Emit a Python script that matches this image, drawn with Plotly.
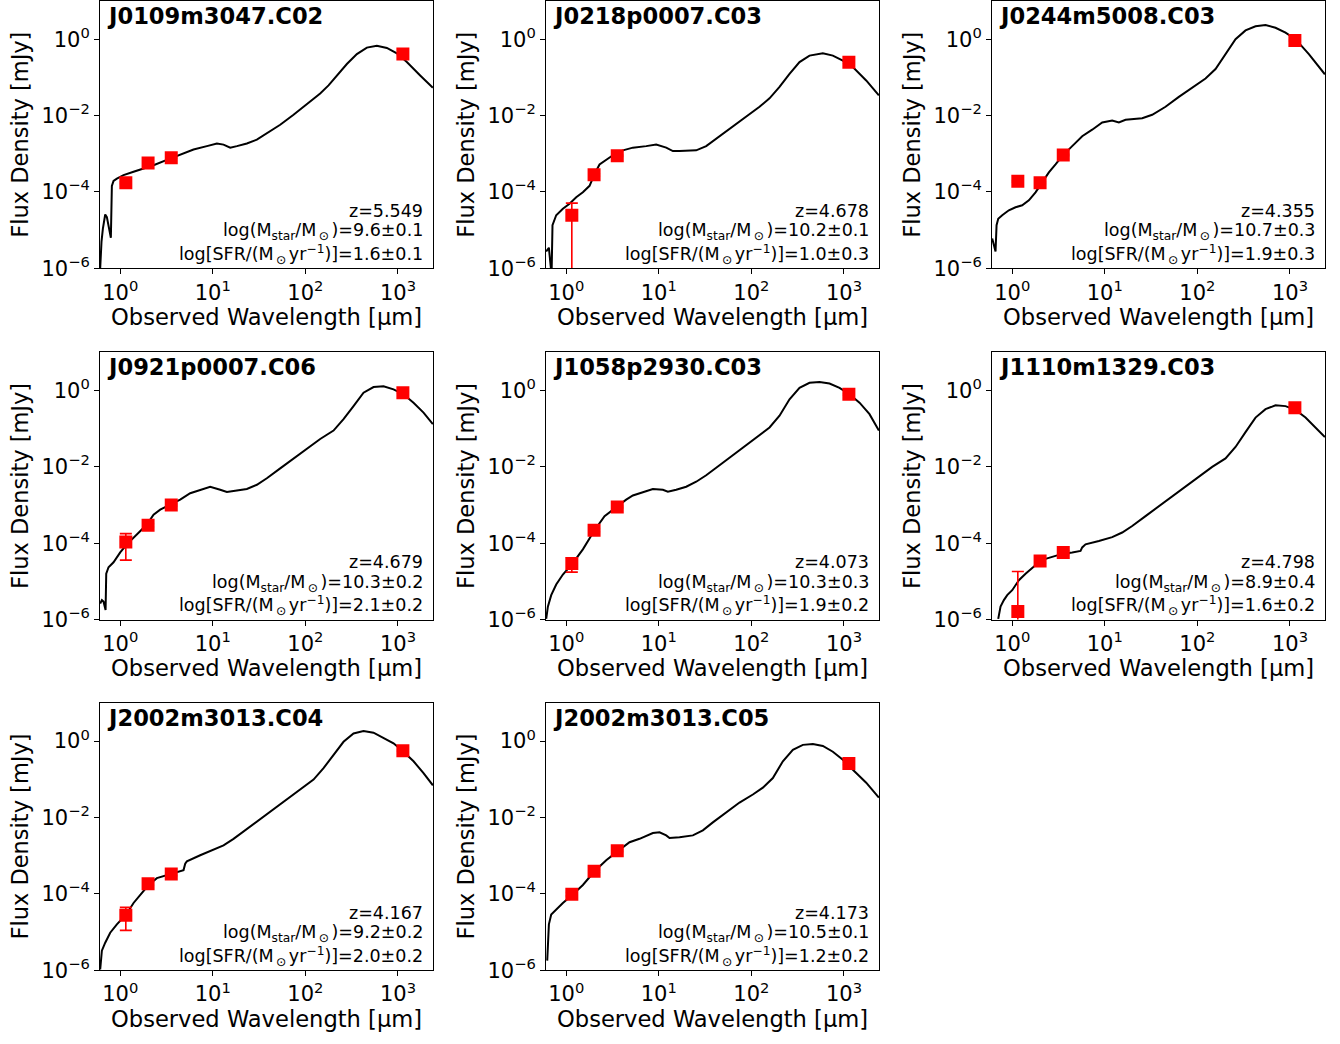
import numpy as np
import plotly.graph_objects as go

# ---------------- data ----------------
names = ["J0109m3047.C02", "J0218p0007.C03", "J0244m5008.C03", "J0921p0007.C06",
         "J1058p2930.C03", "J1110m1329.C03", "J2002m3013.C04", "J2002m3013.C05"]
redshift = ["5.549", "4.678", "4.355", "4.679", "4.073", "4.798", "4.167", "4.173"]
log_mstar = ["9.6±0.1", "10.2±0.1", "10.7±0.3", "10.3±0.2", "10.3±0.3", "8.9±0.4", "9.2±0.2", "10.5±0.1"]
log_sfr = ["1.6±0.1", "1.0±0.3", "1.9±0.3", "2.1±0.2", "1.9±0.2", "1.6±0.2", "2.0±0.2", "1.2±0.2"]

# observed wavelengths of photometric points [um]
phot_wave = [1.15, 2.0, 3.56, 1130]

# photometric flux densities [mJy]
phot_flux_1 = [1.74e-4, 5.75e-4, 7.9e-4, 0.41]
phot_flux_2 = [2.45e-5, 2.8e-4, 8.9e-4, 0.25]
phot_flux_3 = [1.9e-4, 1.74e-4, 9.3e-4, 0.93]
phot_flux_4 = [1.07e-4, 2.95e-4, 1.0e-3, 0.87]
phot_flux_5 = [2.95e-5, 2.2e-4, 8.9e-4, 0.79]
phot_flux_6 = [1.62e-6, 3.4e-5, 5.75e-5, 0.355]
phot_flux_7 = [2.75e-5, 1.82e-4, 3.3e-4, 0.56]
phot_flux_8 = [9.8e-5, 3.9e-4, 1.35e-3, 0.26]

# photometric errors [mJy]
phot_err_1 = [1.0e-5, 2.0e-5, 3.0e-5, 0.02]
phot_err_2 = [2.65e-5, 2.0e-5, 4.0e-5, 0.02]
phot_err_3 = [1.0e-5, 1.0e-5, 4.0e-5, 0.04]
phot_err_4 = [7.1e-5, 3.0e-5, 6.0e-5, 0.04]
phot_err_5 = [1.2e-5, 2.0e-5, 5.0e-5, 0.04]
phot_err_6 = [1.65e-5, 4.0e-6, 6.0e-6, 0.02]
phot_err_7 = [1.65e-5, 1.5e-5, 3.0e-5, 0.03]
phot_err_8 = [1.0e-5, 3.0e-5, 8.0e-5, 0.02]

# best-fit model SEDs (log10 wavelength [um], log10 flux [mJy])
model_loglam_1 = [-0.216, -0.202, -0.187, -0.162, -0.144, -0.122, -0.101, -0.090, -0.072, -0.036, 0.036, 0.144,
                  0.252, 0.360, 0.504, 0.648, 0.792, 0.936, 1.044, 1.116, 1.188, 1.260, 1.368, 1.476, 1.584,
                  1.728, 1.872, 2.016, 2.160, 2.250, 2.340, 2.448, 2.556, 2.664, 2.772, 2.880, 2.988, 3.096,
                  3.240, 3.377]
model_logflux_1 = [-5.99, -5.30, -4.96, -4.59, -4.66, -4.96, -5.20, -3.84, -3.71, -3.65, -3.56, -3.47, -3.39,
                   -3.30, -3.16, -3.02, -2.89, -2.80, -2.73, -2.76, -2.84, -2.80, -2.73, -2.63, -2.47, -2.24,
                   -1.98, -1.70, -1.42, -1.21, -0.95, -0.65, -0.39, -0.22, -0.17, -0.23, -0.37, -0.60, -0.95,
                   -1.27]

model_loglam_2 = [-0.216, -0.187, -0.169, -0.158, -0.148, -0.108, -0.036, 0.036, 0.108, 0.180, 0.252, 0.306,
                  0.360, 0.432, 0.504, 0.612, 0.720, 0.864, 0.972, 1.080, 1.152, 1.224, 1.404, 1.512, 1.656,
                  1.800, 1.944, 2.088, 2.196, 2.304, 2.412, 2.520, 2.628, 2.772, 2.880, 2.988, 3.096, 3.240,
                  3.377]
model_logflux_2 = [-5.56, -5.46, -5.91, -6.16, -4.87, -4.61, -4.44, -4.31, -4.14, -4.01, -3.84, -3.53, -3.28,
                   -3.15, -3.04, -2.91, -2.84, -2.80, -2.76, -2.84, -2.93, -2.93, -2.91, -2.80, -2.54, -2.28,
                   -2.03, -1.77, -1.55, -1.25, -0.91, -0.60, -0.43, -0.37, -0.43, -0.56, -0.73, -1.08, -1.47]

model_loglam_3 = [-0.216, -0.198, -0.180, -0.169, -0.151, -0.108, -0.036, 0.036, 0.108, 0.180, 0.252, 0.324,
                  0.396, 0.468, 0.540, 0.648, 0.756, 0.864, 0.972, 1.080, 1.152, 1.224, 1.404, 1.512, 1.656,
                  1.800, 1.944, 2.088, 2.196, 2.304, 2.412, 2.520, 2.628, 2.736, 2.844, 2.952, 3.060, 3.204,
                  3.377]
model_logflux_3 = [-5.22, -5.39, -5.56, -4.87, -4.70, -4.61, -4.48, -4.40, -4.35, -4.22, -4.01, -3.75, -3.49,
                   -3.28, -3.06, -2.80, -2.54, -2.37, -2.18, -2.13, -2.18, -2.11, -2.07, -1.98, -1.77, -1.51,
                   -1.27, -1.03, -0.78, -0.39, 0.00, 0.23, 0.34, 0.37, 0.30, 0.17, 0.00, -0.39, -0.92]

model_loglam_4 = [-0.216, -0.198, -0.180, -0.158, -0.151, -0.126, -0.072, 0.000, 0.072, 0.144, 0.216, 0.288,
                  0.360, 0.432, 0.540, 0.648, 0.756, 0.864, 0.972, 1.080, 1.152, 1.224, 1.368, 1.476, 1.584,
                  1.728, 1.872, 2.016, 2.160, 2.304, 2.412, 2.520, 2.628, 2.736, 2.844, 2.952, 3.060, 3.168,
                  3.276, 3.377]
model_logflux_4 = [-5.58, -5.49, -5.53, -5.75, -4.80, -4.63, -4.50, -4.24, -4.03, -3.85, -3.68, -3.51, -3.25,
                   -3.12, -2.99, -2.86, -2.69, -2.60, -2.52, -2.60, -2.66, -2.63, -2.58, -2.47, -2.30, -2.04,
                   -1.78, -1.53, -1.27, -1.05, -0.75, -0.41, -0.06, 0.09, 0.11, 0.03, -0.10, -0.32, -0.58,
                   -0.88]

model_loglam_5 = [-0.216, -0.198, -0.162, -0.108, -0.036, 0.065, 0.180, 0.306, 0.414, 0.554, 0.648, 0.720,
                  0.828, 0.936, 1.044, 1.098, 1.188, 1.296, 1.404, 1.512, 1.656, 1.800, 1.944, 2.088, 2.196,
                  2.304, 2.412, 2.520, 2.628, 2.736, 2.844, 2.952, 3.060, 3.168, 3.276, 3.377]
model_logflux_5 = [-5.98, -5.66, -5.36, -5.08, -4.82, -4.54, -4.16, -3.66, -3.29, -3.03, -2.86, -2.75, -2.67,
                   -2.58, -2.60, -2.65, -2.60, -2.52, -2.39, -2.22, -1.96, -1.70, -1.44, -1.18, -0.97, -0.66,
                   -0.23, 0.07, 0.20, 0.22, 0.18, 0.07, -0.10, -0.32, -0.62, -1.05]

model_loglam_6 = [-0.151, -0.126, -0.090, -0.054, 0.000, 0.072, 0.144, 0.216, 0.288, 0.360, 0.432, 0.540,
                  0.648, 0.738, 0.756, 0.792, 0.936, 1.080, 1.188, 1.296, 1.440, 1.584, 1.728, 1.872, 2.016,
                  2.160, 2.304, 2.412, 2.520, 2.628, 2.736, 2.844, 2.952, 3.060, 3.168, 3.276, 3.377]
model_logflux_6 = [-5.98, -5.66, -5.49, -5.36, -5.23, -4.97, -4.80, -4.65, -4.50, -4.41, -4.35, -4.28, -4.24,
                   -4.20, -4.11, -4.03, -3.94, -3.84, -3.72, -3.55, -3.29, -3.03, -2.78, -2.52, -2.26, -2.00,
                   -1.78, -1.48, -1.09, -0.71, -0.49, -0.39, -0.41, -0.51, -0.71, -0.97, -1.22]

model_loglam_7 = [-0.216, -0.198, -0.162, -0.108, -0.036, 0.065, 0.144, 0.216, 0.306, 0.396, 0.504, 0.612,
                  0.684, 0.702, 0.720, 0.864, 1.008, 1.116, 1.224, 1.368, 1.512, 1.656, 1.800, 1.944, 2.088,
                  2.196, 2.304, 2.412, 2.520, 2.628, 2.736, 2.844, 2.952, 3.060, 3.168, 3.276, 3.377]
model_logflux_7 = [-5.98, -5.49, -5.28, -5.02, -4.80, -4.54, -4.24, -4.03, -3.77, -3.59, -3.51, -3.42, -3.38,
                   -3.21, -3.15, -2.99, -2.84, -2.73, -2.56, -2.30, -2.04, -1.78, -1.53, -1.27, -1.01, -0.71,
                   -0.36, -0.02, 0.20, 0.26, 0.22, 0.09, -0.06, -0.28, -0.53, -0.84, -1.16]

model_loglam_8 = [-0.205, -0.198, -0.187, -0.162, -0.108, -0.036, 0.065, 0.180, 0.306, 0.432, 0.554, 0.684,
                  0.792, 0.936, 1.008, 1.080, 1.116, 1.224, 1.368, 1.476, 1.584, 1.728, 1.872, 2.016, 2.124,
                  2.232, 2.340, 2.448, 2.556, 2.664, 2.772, 2.880, 2.988, 3.096, 3.240, 3.377]
model_logflux_8 = [-5.75, -5.23, -4.80, -4.54, -4.41, -4.24, -4.03, -3.77, -3.41, -3.12, -2.89, -2.65, -2.56,
                   -2.41, -2.39, -2.47, -2.54, -2.52, -2.47, -2.34, -2.13, -1.87, -1.61, -1.40, -1.22, -0.97,
                   -0.53, -0.23, -0.10, -0.08, -0.13, -0.28, -0.49, -0.75, -1.09, -1.48]

phot_fluxes = [phot_flux_1, phot_flux_2, phot_flux_3, phot_flux_4, phot_flux_5, phot_flux_6, phot_flux_7, phot_flux_8]
phot_errs = [phot_err_1, phot_err_2, phot_err_3, phot_err_4, phot_err_5, phot_err_6, phot_err_7, phot_err_8]
model_loglams = [model_loglam_1, model_loglam_2, model_loglam_3, model_loglam_4,
                 model_loglam_5, model_loglam_6, model_loglam_7, model_loglam_8]
model_logfluxes = [model_logflux_1, model_logflux_2, model_logflux_3, model_logflux_4,
                   model_logflux_5, model_logflux_6, model_logflux_7, model_logflux_8]

x_tickvals = [1, 10, 100, 1000]
x_ticktext = ["10<sup>0</sup>", "10<sup>1</sup>", "10<sup>2</sup>", "10<sup>3</sup>"]
y_tickvals = [1e-6, 1e-4, 1e-2, 1]
y_ticktext = ["10<sup>\u22126</sup>", "10<sup>\u22124</sup>", "10<sup>\u22122</sup>", "10<sup>0</sup>"]

# ---------------- layout geometry ----------------
W, H = 1340, 1044
col_left = [100.0, 546.0, 992.0]
col_width = 333.0
row_top = [0.0, 355.7, 710.7]
row_height = 270.7

FONT = "DejaVu Sans"

fig = go.Figure()
layout = dict(
    width=W, height=H,
    margin=dict(l=0, r=0, t=0, b=0),
    paper_bgcolor="white", plot_bgcolor="white",
    showlegend=False,
    font=dict(family=FONT, color="black"),
)
annotations = []

for i in range(8):
    r, c = divmod(i, 3)
    n = i + 1
    x0 = col_left[c] / W
    x1 = (col_left[c] + col_width) / W
    y1 = 1 - row_top[r] / H
    y0 = 1 - (row_top[r] + row_height) / H
    xa = "x" if n == 1 else f"x{n}"
    ya = "y" if n == 1 else f"y{n}"

    fig.add_trace(go.Scatter(
        x=10 ** np.array(model_loglams[i]), y=10 ** np.array(model_logfluxes[i]),
        mode="lines", line=dict(color="black", width=2),
        xaxis=xa, yaxis=ya, hoverinfo="skip"))
    fig.add_trace(go.Scatter(
        x=phot_wave, y=phot_fluxes[i], mode="markers",
        marker=dict(symbol="square", size=13, color="red"),
        error_y=dict(type="data", array=phot_errs[i], visible=True,
                     color="red", thickness=1.6, width=6),
        xaxis=xa, yaxis=ya))

    common = dict(showline=True, mirror=True, linecolor="black", linewidth=1,
                  ticks="outside", ticklen=5, tickwidth=1, tickcolor="black",
                  showgrid=False, zeroline=False, tickfont=dict(family=FONT, size=21, color="black"))
    layout["xaxis" if n == 1 else f"xaxis{n}"] = dict(
        type="log", domain=[x0, x1], range=[np.log10(0.605), np.log10(2390)],
        anchor=ya, tickmode="array", tickvals=x_tickvals, ticktext=x_ticktext, **common)
    layout["yaxis" if n == 1 else f"yaxis{n}"] = dict(
        type="log", domain=[y0, y1], range=[-6, 1],
        anchor=xa, tickmode="array", tickvals=y_tickvals, ticktext=y_ticktext, **common)

    left_px = col_left[c]
    right_px = col_left[c] + col_width
    top_px = row_top[r]
    bot_px = row_top[r] + row_height

    # panel name
    annotations.append(dict(
        x=(left_px + 5) / W, y=1 - (top_px + 15) / H, xref="paper", yref="paper",
        xanchor="left", yanchor="middle", showarrow=False,
        text=f"<b>{names[i]}</b>", font=dict(family=FONT, size=22.6, color="black")))
    # info lines
    info = [f"z={redshift[i]}",
            f"log(M<sub>star</sub>/M<sub>\u2009\u2299\u2009</sub>)={log_mstar[i]}",
            f"log[SFR/(M<sub>\u2009\u2299\u2009</sub>yr<sup>\u22121</sup>)]={log_sfr[i]}"]
    offs = [58, 37, 14]
    for t, o in zip(info, offs):
        annotations.append(dict(
            x=(right_px - 8) / W, y=1 - (bot_px - o) / H, xref="paper", yref="paper",
            xanchor="right", yanchor="middle", showarrow=False,
            text=t, font=dict(family=FONT, size=17.5, color="black")))
    # axis titles
    annotations.append(dict(
        x=(left_px - 80) / W, y=1 - (top_px + row_height / 2) / H, xref="paper", yref="paper",
        xanchor="center", yanchor="middle", showarrow=False, textangle=-90,
        text="Flux Density [mJy]", font=dict(family=FONT, size=22.5, color="black")))
    annotations.append(dict(
        x=(left_px + col_width / 2) / W, y=1 - (bot_px + 49) / H, xref="paper", yref="paper",
        xanchor="center", yanchor="middle", showarrow=False,
        text="Observed Wavelength [\u00b5m]", font=dict(family=FONT, size=22.6, color="black")))

layout["annotations"] = annotations
fig.update_layout(**layout)
fig.write_html("out.html", config={"displayModeBar": False},
               post_script="document.body.style.margin='0px';")
